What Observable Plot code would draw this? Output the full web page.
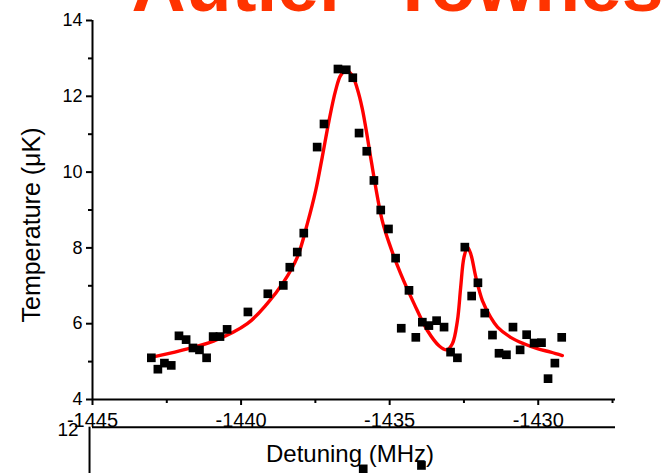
<!DOCTYPE html>
<html>
<head>
<meta charset="utf-8">
<script src="https://cdn.jsdelivr.net/npm/d3@7"></script>
<script src="https://cdn.jsdelivr.net/npm/@observablehq/plot@0.6"></script>
<style>
  html, body { margin: 0; padding: 0; background: #fff; overflow: hidden; }
</style>
</head>
<body>
<div id="chart"></div>
<script>
// Measured temperatures (black squares)
const detuning = [-1443.02, -1442.80, -1442.58, -1442.35, -1442.09, -1441.85, -1441.62, -1441.40, -1441.16, -1440.94,
  -1440.71, -1440.47, -1439.77, -1439.10, -1438.58, -1438.36, -1438.11, -1437.89, -1437.44, -1437.21,
  -1436.74, -1436.46, -1436.24, -1436.03, -1435.77, -1435.53, -1435.30, -1435.04, -1434.80, -1434.61,
  -1434.35, -1434.12, -1433.90, -1433.68, -1433.42, -1433.17, -1432.95, -1432.72, -1432.47, -1432.24,
  -1432.03, -1431.80, -1431.54, -1431.32, -1431.07, -1430.85, -1430.61, -1430.39, -1430.14, -1429.89,
  -1429.67, -1429.44, -1429.21];
const temperature = [5.10, 4.80, 4.96, 4.90, 5.68, 5.58, 5.36, 5.31, 5.10, 5.66,
  5.66, 5.85, 6.31, 6.79, 7.01, 7.49, 7.89, 8.39, 10.66, 11.27,
  12.72, 12.70, 12.49, 11.03, 10.55, 9.78, 9.00, 8.50, 7.73, 5.88,
  6.88, 5.64, 6.04, 5.95, 6.08, 5.91, 5.25, 5.10, 8.02, 6.73,
  7.08, 6.28, 5.70, 5.22, 5.18, 5.91, 5.31, 5.71, 5.49, 5.50,
  4.55, 4.96, 5.64];

// Fitted curve (red)
const fitDetuning = [-1443.03, -1442.04, -1440.93, -1439.79, -1439.12, -1438.56, -1438.11, -1437.77, -1437.49, -1437.27,
  -1437.04, -1436.82, -1436.65, -1436.46, -1436.26, -1436.09, -1435.92, -1435.75, -1435.64, -1435.25,
  -1434.97, -1434.63, -1434.18, -1433.73, -1433.34, -1433.08, -1432.89, -1432.72, -1432.61, -1432.50,
  -1432.38, -1432.27, -1432.10, -1431.88, -1431.60, -1431.37, -1430.93, -1430.48, -1430.03, -1429.58,
  -1429.19];
const fitTemperature = [5.11, 5.29, 5.54, 6.00, 6.53, 7.11, 7.75, 8.64, 9.51, 10.39,
  11.36, 12.15, 12.55, 12.68, 12.55, 12.20, 11.67, 10.92, 10.39, 8.72,
  8.02, 7.32, 6.53, 5.82, 5.42, 5.31, 5.47, 6.08, 6.96, 7.75,
  8.02, 7.84, 7.23, 6.61, 6.17, 5.91, 5.64, 5.47, 5.34, 5.25,
  5.16];

// Tick values
const xMajorTicks = [-1445, -1440, -1435, -1430];
const xMinorTicks = [-1442.5, -1437.5, -1432.5, -1427.5];
const yMajorTicks = [4, 6, 8, 10, 12, 14];
const yMinorTicks = [5, 7, 9, 11, 13];

// Texts
const titleText = ["Autler\u2013Townes"];
const xLabel = ["Detuning (MHz)"];
const yLabel = ["Temperature (\u03bcK)"];

// Fragments of the next panel visible below (cropped)
const nextPanelTickLabel = ["12"];
const nextPanelTickY = [3.27];
const nextPanelAxisY = [3.27, 1.9];
const nextPanelDetuning = [-1435.89, -1433.93];
const nextPanelTemperature = [2.17, 2.26];

const points = detuning.map((d, i) => ({x: d, y: temperature[i]}));
const fit = fitDetuning.map((d, i) => ({x: d, y: fitTemperature[i]}));
const nextPts = nextPanelDetuning.map((d, i) => ({x: d, y: nextPanelTemperature[i]}));

const FONT = "'Liberation Sans', Arial, Helvetica, sans-serif";

const chart = Plot.plot({
  width: 662,
  height: 473,
  marginLeft: 92,
  marginRight: 47,
  marginTop: 20,
  marginBottom: 74,
  style: {fontFamily: FONT, fontSize: "17px", color: "#000", background: "#fff"},
  x: {domain: [-1445, -1427.4], axis: null},
  y: {domain: [4, 14], axis: null},
  marks: [
    // title (top cropped)
    Plot.text(titleText, {frameAnchor: "top-left", dx: 39, dy: -10, textAnchor: "start", lineAnchor: "bottom",
      fontSize: 75, fontWeight: "bold", fill: "#ff3300"}),
    // axes
    Plot.axisX({ticks: xMajorTicks, tickSize: 6, strokeWidth: 2, tickPadding: 7,
      tickFormat: d => String(d), fontSize: 20, label: null}),
    Plot.axisX({ticks: xMinorTicks, tickSize: 4, strokeWidth: 2, tickFormat: () => "", label: null}),
    Plot.axisY({ticks: yMajorTicks, tickSize: 6, strokeWidth: 2, tickPadding: 4,
      tickFormat: d => String(d), fontSize: 18, label: null}),
    Plot.axisY({ticks: yMinorTicks, tickSize: 4, strokeWidth: 2, tickFormat: () => "", label: null}),
    Plot.ruleY([4], {stroke: "#000", strokeWidth: 2}),
    Plot.ruleX([-1445], {stroke: "#000", strokeWidth: 2}),
    // axis titles
    Plot.text(xLabel, {frameAnchor: "bottom", dx: -4, dy: 62, fontSize: 24, textAnchor: "middle"}),
    Plot.text(yLabel, {frameAnchor: "left", dx: -61, dy: 15, rotate: -90, fontSize: 25, textAnchor: "middle"}),
    // fit curve
    Plot.line(fit, {x: "x", y: "y", stroke: "#ff0000", strokeWidth: 3.4, curve: "catmull-rom"}),
    // data
    Plot.dot(points, {x: "x", y: "y", symbol: "square", r: 4.9, fill: "#000", stroke: "none"}),
    // fragments of the next panel
    Plot.ruleX([-1445.1], {y1: nextPanelAxisY[0], y2: nextPanelAxisY[1], stroke: "#000", strokeWidth: 2}),
    Plot.tickY(nextPanelTickY, {x1: -1445.4, x2: -1445.1, y: d => d, stroke: "#000", strokeWidth: 2}),
    Plot.text(nextPanelTickLabel, {x: -1445.1, y: nextPanelTickY[0], dx: -11, dy: 3, textAnchor: "end", fontSize: 19}),
    Plot.dot(nextPts, {x: "x", y: "y", symbol: "square", r: 4.9, fill: "#000", stroke: "none"})
  ]
});
document.getElementById("chart").appendChild(chart);
</script>
</body>
</html>
